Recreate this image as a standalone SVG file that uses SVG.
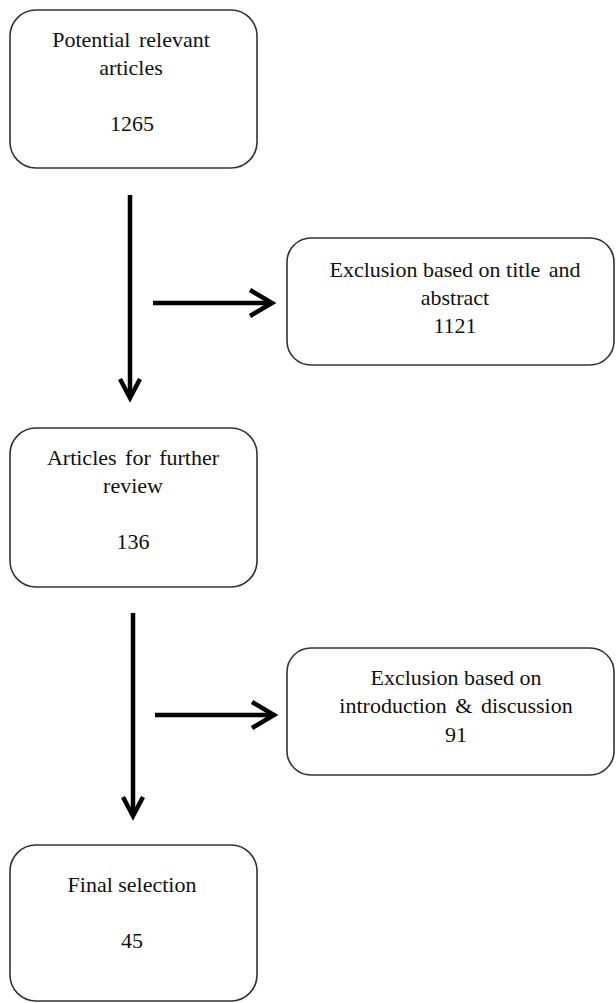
<svg xmlns="http://www.w3.org/2000/svg" width="616" height="1003" viewBox="0 0 616 1003">
<style>
.box{fill:#fff;stroke:#333;stroke-width:1.6}
.t{font-family:'Liberation Serif','Times New Roman',serif;font-size:22px;fill:#111;text-anchor:middle}
.ws{word-spacing:3px}
.ln{stroke:#000;stroke-width:4.5;fill:none}
.hd{stroke:#000;stroke-width:4.5;fill:none;stroke-linejoin:miter;stroke-linecap:butt}
</style>
<rect width="616" height="1003" fill="#fff"/>
<g id="n1">
<rect class="box" x="10" y="10" width="247" height="158" rx="26"/>
<text class="t ws" x="131" y="47">Potential relevant</text>
<text class="t" x="131" y="75">articles</text>
<text class="t" x="132" y="131">1265</text>
</g>
<g id="n2">
<rect class="box" x="287" y="238" width="327" height="127" rx="24"/>
<text class="t" x="455" y="277">Exclusion based on title <tspan dx="3">and</tspan></text>
<text class="t" x="455" y="305">abstract</text>
<text class="t" x="455" y="333">1121</text>
</g>
<g id="n3">
<rect class="box" x="10" y="428" width="247" height="159" rx="26"/>
<text class="t ws" x="133" y="465">Articles for further</text>
<text class="t" x="133" y="493">review</text>
<text class="t" x="133" y="549">136</text>
</g>
<g id="n4">
<rect class="box" x="287" y="648" width="327" height="127" rx="24"/>
<text class="t" x="456" y="685">Exclusion based on</text>
<text class="t ws" x="456" y="713">introduction &amp; discussion</text>
<text class="t" x="456" y="742">91</text>
</g>
<g id="n5">
<rect class="box" x="10" y="845" width="247" height="156" rx="26"/>
<text class="t" x="132" y="892">Final selection</text>
<text class="t" x="132" y="948">45</text>
</g>
<g id="connectors">
<line class="ln" x1="130" y1="195" x2="130" y2="397"/>
<polyline class="hd" points="120,379 130,398 140,379"/>
<line class="ln" x1="153" y1="303" x2="271" y2="303"/>
<polyline class="hd" points="250,290 272,303 250,316"/>
<line class="ln" x1="133" y1="613" x2="133" y2="815"/>
<polyline class="hd" points="123,797 133,816 143,797"/>
<line class="ln" x1="155" y1="715" x2="273" y2="715"/>
<polyline class="hd" points="252,702 274,715 252,728"/>
</g>
</svg>
